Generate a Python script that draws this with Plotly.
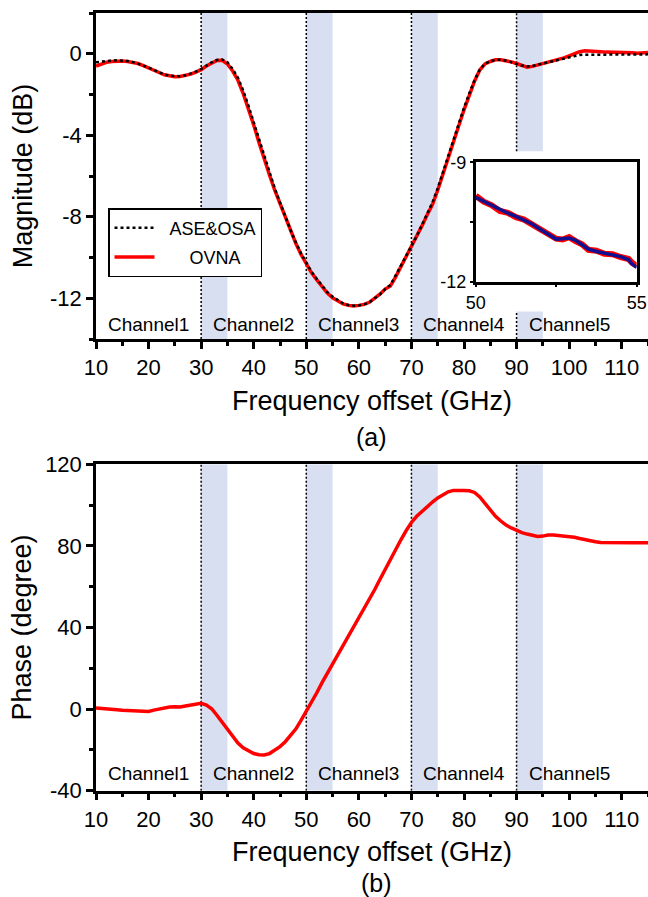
import plotly.graph_objects as go

# ---------------- data ----------------
freq = list(range(10, 116))

mag_ovna = [-0.60, -0.50, -0.42, -0.38, -0.35, -0.36, -0.38, -0.42, -0.48, -0.58,
            -0.68, -0.80, -0.92, -1.03, -1.10, -1.13, -1.12, -1.08, -1.00, -0.90,
            -0.78, -0.60, -0.45, -0.33, -0.32, -0.50, -0.85, -1.30, -1.95, -2.70,
            -3.50, -4.35, -5.20, -5.95, -6.70, -7.36, -8.05, -8.70, -9.30, -9.85,
            -10.31, -10.75, -11.10, -11.45, -11.75, -11.98, -12.15, -12.28, -12.35, -12.38,
            -12.35, -12.30, -12.20, -12.02, -11.80, -11.55, -11.40, -10.95, -10.45, -9.95,
            -9.50, -9.00, -8.45, -7.90, -7.40, -6.70, -5.90, -5.15, -4.35, -3.60,
            -2.75, -2.05, -1.35, -0.80, -0.50, -0.38, -0.30, -0.30, -0.33, -0.40,
            -0.48, -0.58, -0.66, -0.62, -0.55, -0.50, -0.45, -0.38, -0.30, -0.20,
            -0.10, 0.00, 0.10, 0.15, 0.12, 0.10, 0.10, 0.08, 0.08, 0.06,
            0.05, 0.05, 0.05, 0.03, 0.05, 0.06]

mag_ase = [-0.42, -0.38, -0.35, -0.33, -0.32, -0.33, -0.36, -0.41, -0.48, -0.58,
           -0.68, -0.80, -0.92, -1.02, -1.08, -1.10, -1.10, -1.06, -0.98, -0.88,
           -0.75, -0.58, -0.42, -0.30, -0.28, -0.42, -0.75, -1.18, -1.80, -2.55,
           -3.35, -4.20, -5.05, -5.85, -6.60, -7.30, -8.00, -8.65, -9.25, -9.80,
           -10.25, -10.70, -11.05, -11.40, -11.70, -11.92, -12.10, -12.25, -12.33, -12.37,
           -12.35, -12.30, -12.20, -12.03, -11.82, -11.55, -11.35, -10.88, -10.40, -9.90,
           -9.45, -8.95, -8.40, -7.85, -7.30, -6.60, -5.80, -5.00, -4.20, -3.45,
           -2.65, -1.95, -1.30, -0.78, -0.48, -0.36, -0.30, -0.30, -0.34, -0.42,
           -0.50, -0.58, -0.62, -0.60, -0.54, -0.48, -0.42, -0.36, -0.30, -0.22,
           -0.15, -0.10, -0.06, -0.05, -0.05, -0.05, -0.06, -0.06, -0.06, -0.06,
           -0.05, -0.05, -0.05, -0.05, -0.04, -0.03]

phase = [0.5, 0.4, 0.3, 0.0, -0.3, -0.6, -0.8, -0.9, -1.0, -1.1,
         -1.2, -0.5, 0.0, 0.6, 1.0, 1.1, 1.0, 1.5, 2.0, 2.4,
         2.8, 2.0, 0.2, -3.0, -6.5, -10.2, -13.5, -16.6, -19.0, -20.6,
         -21.8, -22.4, -22.5, -21.8, -20.3, -18.4, -16.0, -13.2, -9.8, -5.5,
         -1.0, 3.0, 8.0, 13.0, 17.5, 22.0, 26.5, 31.0, 35.5, 40.0,
         44.5, 49.0, 53.5, 58.5, 63.5, 68.5, 73.5, 78.5, 83.0, 87.5,
         91.5, 94.5, 97.0, 99.5, 101.5, 103.5, 105.0, 106.5, 107.2, 107.3,
         107.2, 107.0, 106.2, 104.0, 101.0, 97.5, 94.5, 92.2, 90.2, 88.8,
         87.5, 86.5, 85.8, 85.2, 84.6, 84.8, 85.3, 85.3, 85.1, 84.9,
         84.6, 84.2, 83.6, 83.0, 82.5, 82.0, 81.7, 81.6, 81.6, 81.6,
         81.6, 81.5, 81.5, 81.5, 81.5, 81.5]

inset_freq = [50.0, 50.25, 50.5, 50.75, 51.0, 51.25, 51.5, 51.75, 52.0, 52.25,
              52.5, 52.7, 52.9, 53.1, 53.3, 53.5, 53.75, 54.0, 54.25, 54.5,
              54.75, 54.85, 55.0]
inset_red = [-9.84, -9.99, -10.08, -10.22, -10.27, -10.38, -10.44, -10.57, -10.66, -10.82,
             -10.92, -10.94, -10.88, -10.98, -11.06, -11.20, -11.22, -11.30, -11.31, -11.38,
             -11.43, -11.52, -11.60]
inset_blue = [-9.88, -9.98, -10.10, -10.20, -10.28, -10.36, -10.45, -10.55, -10.68, -10.80,
              -10.93, -10.92, -10.90, -10.96, -11.08, -11.18, -11.24, -11.28, -11.32, -11.37,
              -11.45, -11.55, -11.64]

channel_starts = [30, 50, 70, 90]
channel_width = 5
channel_names = ["Channel1", "Channel2", "Channel3", "Channel4", "Channel5"]
channel_centers = [20, 40, 60, 80, 100]

mag_ticks = [0, -4, -8, -12]
mag_ticktext = ["0", "-4", "-8", "-12"]
phase_ticks = [-40, 0, 40, 80, 120]
phase_ticktext = ["-40", "0", "40", "80", "120"]
inset_yticks = [-9, -12]
inset_yticktext = ["-9", "-12"]

# ---------------- figure ----------------
W, H = 648, 897
FONT = "Liberation Sans, Arial, Helvetica, sans-serif"
RED = "#ff0000"
BAND = "rgba(216,223,241,1)"
NB = "\u00a0"

fig = go.Figure()

fig.add_trace(go.Scatter(x=freq, y=mag_ovna, mode="lines", name=NB * 6 + "OVNA",
                         line=dict(color=RED, width=3.5), xaxis="x", yaxis="y",
                         legendgroup="b", legendrank=2))
fig.add_trace(go.Scatter(x=freq, y=mag_ase, mode="lines", name=NB * 2 + "ASE&OSA",
                         line=dict(color="black", width=2.5, dash="dot"),
                         xaxis="x", yaxis="y", legendgroup="a", legendrank=1))
fig.add_trace(go.Scatter(x=freq, y=phase, mode="lines", showlegend=False,
                         line=dict(color=RED, width=3.5), xaxis="x2", yaxis="y2"))
fig.add_trace(go.Scatter(x=inset_freq, y=inset_red, mode="lines", showlegend=False,
                         line=dict(color=RED, width=6), xaxis="x3", yaxis="y3"))
fig.add_trace(go.Scatter(x=inset_freq, y=inset_blue, mode="lines", showlegend=False,
                         line=dict(color="#101090", width=3.5), xaxis="x3", yaxis="y3"))

shapes = []
mag_top, mag_bot = 2, -14
ph_top, ph_bot = 120, -40
gap_hi, gap_lo = -4.78, -12.65  # region hidden behind the inset in panel (a)
for s in channel_starts:
    segs_a = [(mag_bot, mag_top)] if s != 90 else [(gap_hi, mag_top), (mag_bot, gap_lo)]
    for y0, y1 in segs_a:
        shapes.append(dict(type="rect", xref="x", yref="y", x0=s, x1=s + channel_width,
                           y0=y0, y1=y1, fillcolor=BAND, line=dict(width=0), layer="below"))
    shapes.append(dict(type="rect", xref="x2", yref="y2", x0=s, x1=s + channel_width,
                       y0=ph_bot, y1=ph_top, fillcolor=BAND, line=dict(width=0), layer="below"))
for s in channel_starts:
    segs_a = [(mag_bot, mag_top)] if s != 90 else [(gap_hi, mag_top), (mag_bot, gap_lo)]
    for y0, y1 in segs_a:
        shapes.append(dict(type="line", xref="x", yref="y", x0=s, x1=s, y0=y0, y1=y1,
                           line=dict(color="black", width=1.5, dash="2px,2px"), layer="below"))
    shapes.append(dict(type="line", xref="x2", yref="y2", x0=s, x1=s, y0=ph_bot, y1=ph_top,
                       line=dict(color="black", width=1.5, dash="2px,2px"), layer="below"))

annotations = []
for name, c in zip(channel_names, channel_centers):
    annotations.append(dict(x=c, y=-13.3, xref="x", yref="y", text=name, showarrow=False,
                            xanchor="center", yanchor="middle",
                            font=dict(size=19, color="black", family=FONT)))
    annotations.append(dict(x=c, y=-31.5, xref="x2", yref="y2", text=name, showarrow=False,
                            xanchor="center", yanchor="middle",
                            font=dict(size=19, color="black", family=FONT)))
annotations.append(dict(x=371 / W, y=1 - 437 / H, xref="paper", yref="paper", text="(a)",
                        showarrow=False, xanchor="center", yanchor="middle",
                        font=dict(size=25, color="black", family=FONT)))
annotations.append(dict(x=376 / W, y=1 - 883 / H, xref="paper", yref="paper", text="(b)",
                        showarrow=False, xanchor="center", yanchor="middle",
                        font=dict(size=25, color="black", family=FONT)))

axis_common = dict(showline=True, linecolor="black", linewidth=2.5, mirror=True,
                   ticks="outside", tickwidth=2.5, ticklen=7, tickcolor="black",
                   showgrid=False, zeroline=False, automargin=False,
                   tickfont=dict(size=22, color="black", family=FONT))
inset_common = dict(showline=True, linecolor="black", linewidth=2.5, mirror=True,
                    ticks="outside", ticklen=3, tickwidth=2, tickcolor="black",
                    showgrid=False, zeroline=False, automargin=False,
                    tickfont=dict(size=18, color="black", family=FONT))

xdom = [96 / W, 1.0]
fig.update_layout(
    width=W, height=H,
    margin=dict(l=0, r=0, t=0, b=0, autoexpand=False),
    paper_bgcolor="white", plot_bgcolor="rgba(0,0,0,0)",
    font=dict(family=FONT, color="black"),
    xaxis=dict(**axis_common, domain=xdom, anchor="y", range=[10, 115],
               tick0=10, dtick=10,
               minor=dict(dtick=5, ticklen=4, tickwidth=2.5, tickcolor="black", ticks="outside"),
               title=dict(text="Frequency offset (GHz)", font=dict(size=27, family=FONT), standoff=12)),
    yaxis=dict(**axis_common, domain=[1 - 339 / H, 1 - 13 / H], anchor="x", range=[-14, 2],
               tickvals=mag_ticks, ticktext=mag_ticktext,
               minor=dict(dtick=2, ticklen=4, tickwidth=2.5, tickcolor="black", ticks="outside"),
               title=dict(text="Magnitude (dB)", font=dict(size=27, family=FONT), standoff=10)),
    xaxis2=dict(**axis_common, domain=xdom, anchor="y2", range=[10, 115],
                tick0=10, dtick=10,
                minor=dict(dtick=5, ticklen=4, tickwidth=2.5, tickcolor="black", ticks="outside"),
                title=dict(text="Frequency offset (GHz)", font=dict(size=27, family=FONT), standoff=12)),
    yaxis2=dict(**axis_common, domain=[1 - 790.7 / H, 1 - 464.3 / H], anchor="x2", range=[-40, 120],
                tickvals=phase_ticks, ticktext=phase_ticktext,
                minor=dict(dtick=20, ticklen=4, tickwidth=2.5, tickcolor="black", ticks="outside"),
                title=dict(text="Phase (degree)", font=dict(size=27, family=FONT), standoff=6)),
    xaxis3=dict(**inset_common,
                domain=[475.7 / W, 636.7 / W], anchor="y3", range=[50, 55],
                tickvals=[50, 55], ticktext=["50", "55"],
                minor=dict(tickvals=[52.5], ticklen=3, tickwidth=2, tickcolor="black", ticks="outside")),
    yaxis3=dict(**inset_common,
                domain=[1 - 281.7 / H, 1 - 162.3 / H], anchor="x3", range=[-12, -9],
                tickvals=inset_yticks, ticktext=inset_yticktext,
                minor=dict(tickvals=[-10.5], ticklen=3, tickwidth=2, tickcolor="black", ticks="outside")),
    shapes=shapes,
    annotations=annotations,
    showlegend=True,
    legend=dict(x=108.3 / W, y=1 - 208.3 / H, xanchor="left", yanchor="top",
                bgcolor="white", bordercolor="black", borderwidth=1.2,
                font=dict(size=18, color="black", family=FONT),
                itemwidth=40, tracegroupgap=3, traceorder="grouped"),
)

fig.write_html("out.html", config={"displayModeBar": False},
               post_script="document.body.style.margin='0';document.body.style.overflow='hidden';")
